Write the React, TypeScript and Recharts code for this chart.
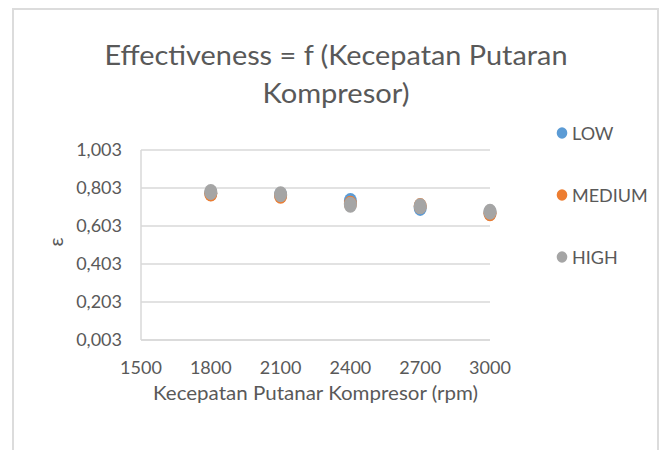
import React from 'react';
import { ScatterChart, Scatter, XAxis, YAxis, CartesianGrid, Legend, Label } from 'recharts';

const rpm = [1800, 2100, 2400, 2700, 3000];
const lowValues = [0.776, 0.766, 0.735, 0.698, 0.672];
const mediumValues = [0.774, 0.762, 0.72, 0.708, 0.67];
const highValues = [0.782, 0.77, 0.715, 0.707, 0.678];
const seriesNames = ['LOW', 'MEDIUM', 'HIGH'];
const seriesColors = ['#5B9BD5', '#ED7D31', '#A5A5A5'];
const xTicks = [1500, 1800, 2100, 2400, 2700, 3000];
const yTicks = [0.003, 0.203, 0.403, 0.603, 0.803, 1.003];
const titleLines = ['Effectiveness = f (Kecepatan Putaran', 'Kompresor)'];
const xTitle = 'Kecepatan Putanar Kompresor (rpm)';
const yTitle = 'ε';

const FONT = 'Lato, "Open Sans", sans-serif';
const TEXT = '#595959';
const GRID = '#d9d9d9';

const seriesValues = [lowValues, mediumValues, highValues];
const seriesData = seriesValues.map((vals) => rpm.map((x, i) => ({ x, y: vals[i] })));

const makeShape = (color: string) => (props: any) => (
  <ellipse cx={props.cx} cy={props.cy} rx={6.5} ry={8} fill={color} />
);

const LegendContent = () => (
  <div style={{ fontFamily: FONT, fontSize: 18, color: TEXT }}>
    {seriesNames.map((n, i) => (
      <div key={n} style={{ height: 62, display: 'flex', alignItems: 'center', whiteSpace: 'nowrap' }}>
        <svg width={12} height={12} style={{ marginLeft: 6, marginRight: 4 }}>
          <ellipse cx={6} cy={6} rx={5.3} ry={5.8} fill={seriesColors[i]} />
        </svg>
        <span>{n}</span>
      </div>
    ))}
  </div>
);

export default function App() {
  return (
    <div style={{ position: 'absolute', left: 0, top: 0, width: 662, height: 450, background: '#fff', overflow: 'hidden' }}>
      <div
        style={{
          position: 'absolute',
          left: 12,
          top: 8,
          width: 647,
          height: 460,
          borderTop: '2px solid #dcdcdc',
          borderLeft: '2px solid #dcdcdc',
          borderRight: '2px solid #dcdcdc',
          boxSizing: 'border-box',
        }}
      />
      <ScatterChart width={662} height={450} margin={{ top: 150, right: 62, bottom: 40, left: 13 }}>
        <CartesianGrid vertical={false} stroke={GRID} strokeWidth={1.5} />
        <XAxis
          type="number"
          dataKey="x"
          domain={[1500, 3000]}
          ticks={xTicks}
          interval={0}
          height={70}
          tickSize={0}
          tickMargin={21}
          axisLine={{ stroke: GRID, strokeWidth: 1.5 }}
          tick={{ fill: TEXT, fontSize: 18, fontFamily: FONT }}
        >
          <Label
            content={(p: any) => {
              const vb = p.viewBox;
              return (
                <text x={vb.x + vb.width / 2} y={vb.y + 60} textAnchor="middle" fill={TEXT} fontSize={19} fontFamily={FONT} textLength={325} lengthAdjust="spacingAndGlyphs">
                  {xTitle}
                </text>
              );
            }}
          />
        </XAxis>
        <YAxis
          type="number"
          dataKey="y"
          domain={[0.003, 1.003]}
          ticks={yTicks}
          interval={0}
          width={128}
          tickSize={0}
          tickMargin={19}
          axisLine={{ stroke: GRID, strokeWidth: 1.5 }}
          tick={{ fill: TEXT, fontSize: 18, fontFamily: FONT }}
          tickFormatter={(v: number) => v.toFixed(3).replace('.', ',')}
        >
          <Label
            content={(p: any) => {
              const vb = p.viewBox;
              const cx = vb.x + 42;
              const cy = vb.y + vb.height / 2 - 3;
              return (
                <text x={cx} y={cy} transform={`rotate(-90 ${cx} ${cy})`} textAnchor="middle" dominantBaseline="central" fill={TEXT} fontSize={20} fontFamily={FONT}>
                  {yTitle}
                </text>
              );
            }}
          />
        </YAxis>
        <Legend
          layout="vertical"
          align="right"
          verticalAlign="top"
          width={110}
          wrapperStyle={{ left: 550, top: 102, right: 'auto', width: 110 }}
          content={() => <LegendContent />}
        />
        {seriesNames.map((n, i) => (
          <Scatter
            key={n}
            name={n}
            data={seriesData[i]}
            fill={seriesColors[i]}
            shape={makeShape(seriesColors[i])}
            isAnimationActive={false}
          />
        ))}
      </ScatterChart>
      <svg width={662} height={450} style={{ position: 'absolute', left: 0, top: 0, pointerEvents: 'none' }}>
        <text x={336} y={65} textAnchor="middle" fill={TEXT} fontSize={27} fontFamily={FONT} textLength={463} lengthAdjust="spacingAndGlyphs">
          {titleLines[0]}
        </text>
        <text x={336} y={103} textAnchor="middle" fill={TEXT} fontSize={27} fontFamily={FONT} textLength={147} lengthAdjust="spacingAndGlyphs">
          {titleLines[1]}
        </text>
      </svg>
    </div>
  );
}
